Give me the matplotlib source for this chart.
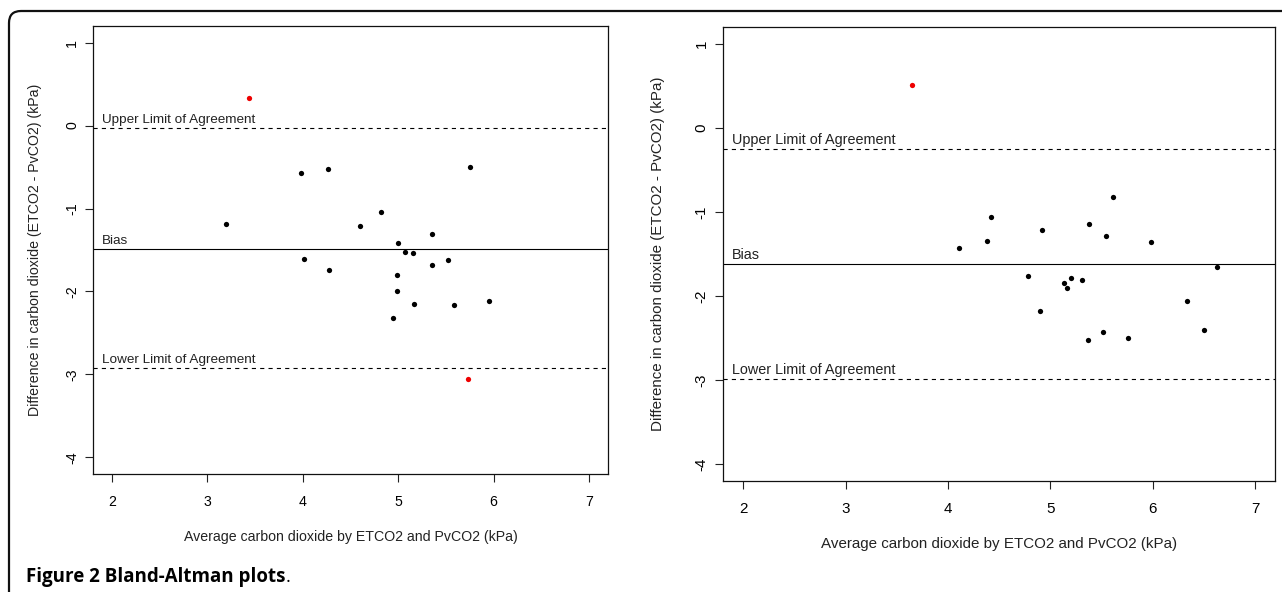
"""Bland-Altman plots - ETCO2 vs PvCO2 (Figure 2)"""
import matplotlib
matplotlib.use("Agg")
import matplotlib.pyplot as plt
from matplotlib.patches import FancyBboxPatch
from matplotlib.transforms import IdentityTransform

plt.rcParams['font.family'] = ['Liberation Sans', 'DejaVu Sans']
plt.rcParams['lines.scale_dashes'] = False

# left panel
left_avg = [3.98, 4.26, 5.75, 3.20, 4.82, 4.60, 5.35, 5.00, 5.07, 5.16,
            5.52, 4.01, 4.27, 5.35, 4.99, 4.99, 5.95, 5.17, 5.59, 4.95]
left_diff = [-0.57, -0.52, -0.50, -1.19, -1.04, -1.21, -1.31, -1.415, -1.52, -1.535,
             -1.62, -1.61, -1.745, -1.685, -1.80, -1.99, -2.11, -2.15, -2.16, -2.32]
left_out_avg = [3.435, 5.73]
left_out_diff = [0.33, -3.06]
left_limits = [-0.03, -1.49, -2.92]   # upper, bias, lower

# right panel
right_avg = [5.61, 4.42, 5.38, 4.92, 5.54, 4.11, 4.38, 5.98, 6.63, 4.78,
             5.13, 5.20, 5.31, 5.16, 6.34, 4.90, 5.52, 5.37, 5.76, 6.50]
right_diff = [-0.82, -1.06, -1.14, -1.22, -1.28, -1.43, -1.35, -1.36, -1.65, -1.76,
              -1.85, -1.79, -1.81, -1.91, -2.06, -2.18, -2.43, -2.53, -2.50, -2.40]
right_out_avg = [3.645]
right_out_diff = [0.51]
right_limits = [-0.25, -1.62, -2.99]

x_ticks = [2, 3, 4, 5, 6, 7]
y_ticks = [-4, -3, -2, -1, 0, 1]
limit_labels = ["Upper Limit of Agreement", "Bias", "Lower Limit of Agreement"]
limit_styles = ["--", "-", "--"]
x_label = "Average carbon dioxide by ETCO2 and PvCO2 (kPa)"
y_label = "Difference in carbon dioxide (ETCO2 - PvCO2) (kPa)"


def draw_panel(ax, avg, diff, out_avg, out_diff, limits, fs, xlab_y, ylab_x):
    """Draw one Bland-Altman panel in base-R look."""
    ax.plot(avg, diff, 'o', color='black', ms=3.8, mew=0)
    ax.plot(out_avg, out_diff, 'o', color='#ee0000', ms=3.8, mew=0)

    for val, lab, ls in zip(limits, limit_labels, limit_styles):
        ax.axhline(val, color='black', lw=0.8, ls=ls, dashes=(3, 3) if ls == '--' else (None, None))
        ax.annotate(lab, xy=(1.89, val), xytext=(0, 1.5), textcoords='offset points',
                    ha='left', va='bottom', fontsize=fs * 0.95, color='#222222')

    ax.set_xlim(1.8, 7.2)
    ax.set_ylim(-4.2, 1.2)
    ax.set_xticks(x_ticks)
    ax.set_yticks(y_ticks)
    ax.set_xticklabels([str(t) for t in x_ticks], fontsize=fs)
    ax.set_yticklabels([str(t) for t in y_ticks], fontsize=fs, rotation=90, va='center')
    ax.tick_params(direction='out', length=6, width=0.8, color='#222222')
    ax.tick_params(axis='x', pad=9)
    ax.tick_params(axis='y', pad=4)

    for sp in ax.spines.values():
        sp.set_linewidth(0.9)
        sp.set_color('#111111')

    ax.set_xlabel(x_label, fontsize=fs, va='center', color='#222222')
    ax.xaxis.set_label_coords(0.5, xlab_y)
    ax.set_ylabel(y_label, fontsize=fs, va='center', color='#222222')
    ax.yaxis.set_label_coords(ylab_x, 0.5)


fig = plt.figure(figsize=(12.82, 5.92), dpi=100)

# rounded outer frame (cut off at the right and bottom edges)
frame = FancyBboxPatch((9, -30), 1320, 592 - 11 + 30,
                       boxstyle="round,pad=0,rounding_size=12",
                       transform=IdentityTransform(), fill=False,
                       lw=1.6, ec='#111111')
fig.patches.append(frame)

ax1 = fig.add_axes([0.0725, 0.1993, 0.4018, 0.7568])
draw_panel(ax1, left_avg, left_diff, left_out_avg, left_out_diff, left_limits,
           fs=10.2, xlab_y=-0.140, ylab_x=-0.113)

ax2 = fig.add_axes([0.5637, 0.1880, 0.4312, 0.7659])
draw_panel(ax2, right_avg, right_diff, right_out_avg, right_out_diff, right_limits,
           fs=10.9, xlab_y=-0.1396, ylab_x=-0.117)

# caption: bold part + regular full stop
cap = fig.text(26 / 1282, 1 - 582 / 592, "Figure 2 Bland-Altman plots",
               fontsize=13.5, fontweight='bold', family='Open Sans', va='baseline')
fig.canvas.draw()
bb = cap.get_window_extent()
fig.text(bb.x1 / 1282, 1 - 582 / 592, ".", fontsize=13.5, family='Open Sans', va='baseline')

fig.savefig("out.png", dpi=100)
